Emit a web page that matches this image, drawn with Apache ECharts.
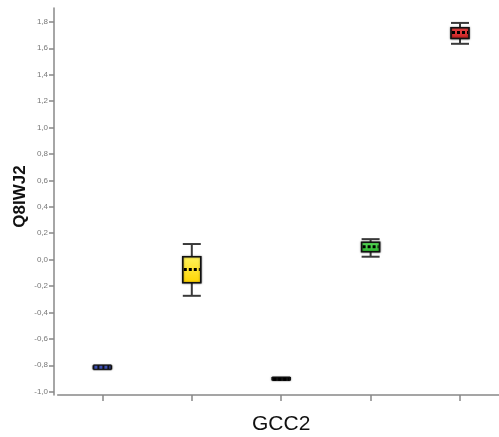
<!DOCTYPE html>
<html><head><meta charset="utf-8">
<script src="https://cdn.jsdelivr.net/npm/echarts@6/dist/echarts.min.js"></script>
<style>html,body{margin:0;padding:0;background:#fff}#c{width:499px;height:437px}</style>
</head><body><div id="c"></div>
<script>
var categories = ['G1','G2','G3','G4','G5'];
var mins    = [-0.830, -0.274, -0.912, 0.022, 1.634];
var q1s     = [-0.825, -0.175, -0.910, 0.059, 1.674];
var medians = [-0.815, -0.074, -0.905, 0.097, 1.720];
var q3s     = [-0.805,  0.022, -0.895, 0.131, 1.755];
var maxs    = [-0.800,  0.118, -0.892, 0.155, 1.792];
var yTicks = [-1.0,-0.8,-0.6,-0.4,-0.2,0.0,0.2,0.4,0.6,0.8,1.0,1.2,1.4,1.6,1.8];
var fillTop    = ['#2a2a4a','#fff45e','#2a2a2a','#5ee05e','#ee4a4a'];
var fillBottom = ['#101020','#ffd400','#000000','#2cb82c','#c81e1e'];
var dashColors = ['#3d4fb0','#000000','#000000','#000000','#000000'];

var data = categories.map(function(c,i){return [i, mins[i], q1s[i], medians[i], q3s[i], maxs[i]];});

function renderItem(params, api){
  var x = api.value(0);
  var pMin = api.coord([x, api.value(1)]);
  var pQ1 = api.coord([x, api.value(2)]);
  var pMed = api.coord([x, api.value(3)]);
  var pQ3 = api.coord([x, api.value(4)]);
  var pMax = api.coord([x, api.value(5)]);
  var w = 18, cx = pMin[0], i = params.dataIndex;
  var ls = {stroke:'#3a3a3a', lineWidth:2};
  return {type:'group', children:[
    {type:'line', shape:{x1:cx,y1:pMax[1],x2:cx,y2:pQ3[1]}, style:ls},
    {type:'line', shape:{x1:cx,y1:pQ1[1],x2:cx,y2:pMin[1]}, style:ls},
    {type:'line', shape:{x1:cx-w/2,y1:pMax[1],x2:cx+w/2,y2:pMax[1]}, style:ls},
    {type:'line', shape:{x1:cx-w/2,y1:pMin[1],x2:cx+w/2,y2:pMin[1]}, style:ls},
    {type:'rect', shape:{x:cx-w/2, y:pQ3[1], width:w, height:Math.max(pQ1[1]-pQ3[1],1)},
      style:{fill:new echarts.graphic.LinearGradient(0,0,0,1,[{offset:0,color:fillTop[i]},{offset:1,color:fillBottom[i]}]),
        stroke:'#111', lineWidth:1.6, shadowColor:'rgba(0,0,0,0.5)', shadowBlur:2}},
    {type:'line', shape:{x1:cx-w/2+1,y1:pMed[1],x2:cx+w/2-1,y2:pMed[1]},
      style:{stroke:dashColors[i], lineWidth:3, lineDash:[3,2]}}
  ]};
}

var chart = echarts.init(document.getElementById('c'), null, {renderer:'canvas'});
chart.setOption({
  animation:false,
  grid:{left:57.7, right:-5.7, top:8, bottom:42, outerBoundsMode:'none', containLabel:false},
  xAxis:{type:'category', data:categories, name:'GCC2', nameLocation:'middle', nameGap:18,
    nameTextStyle:{fontSize:21, color:'#111', fontFamily:'Liberation Sans'},
    axisLine:{onZero:false, lineStyle:{color:'#888', width:1.5}},
    axisTick:{show:true, alignWithLabel:true, interval:0, length:6, lineStyle:{color:'#888', width:1.5}},
    axisLabel:{show:true, interval:0, fontSize:6, color:'rgba(0,0,0,0)'}, splitLine:{show:false}},
  yAxis:{type:'value', min:-1.025, max:1.905, offset:3.7, name:'Q8IWJ2', nameLocation:'middle', nameGap:25,
    nameMoveOverlap:false,
    nameTextStyle:{fontSize:17, fontWeight:'bold', color:'#111', fontFamily:'Liberation Sans', padding:[0,0,0,10]},
    axisLine:{show:true, onZero:false, lineStyle:{color:'#888', width:1.5}},
    axisTick:{show:true, length:5, customValues:yTicks, lineStyle:{color:'#888', width:1.5}},
    axisLabel:{customValues:yTicks, fontSize:8, color:'#777', fontFamily:'Liberation Sans', margin:6,
      formatter:function(v){return v.toFixed(1).replace('.', ',');}},
    splitLine:{show:false}},
  series:[{type:'custom', renderItem:renderItem, data:data, encode:{x:0, y:[1,2,3,4,5]}}]
});
</script></body></html>
